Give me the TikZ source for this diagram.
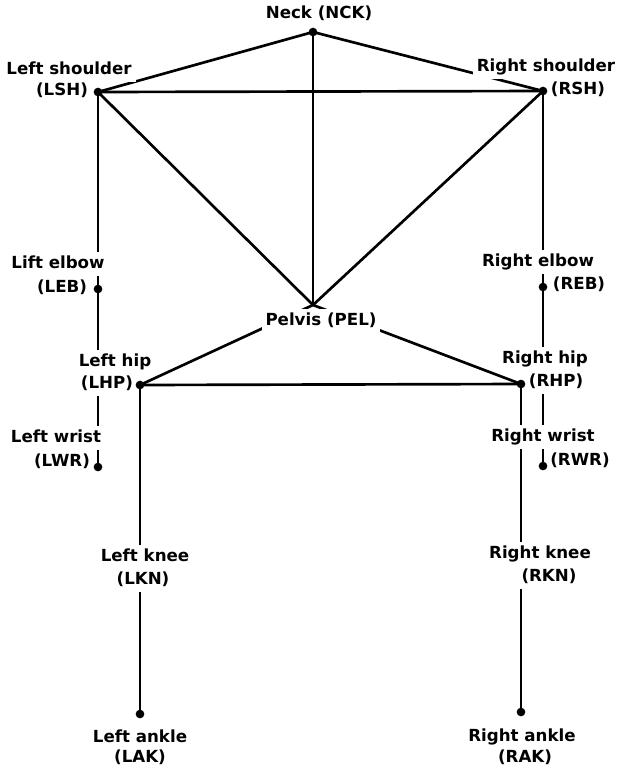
\documentclass[tikz,border=0pt]{standalone}
\usepackage{fontspec}
\setmainfont{DejaVu Sans}
\pgfdeclarelayer{bg}
\pgfsetlayers{bg,main}
\begin{document}
\begin{tikzpicture}[x=0.75pt,y=-0.75pt,
  lbl/.style={fill=white,inner xsep=3pt,inner ysep=4pt,font=\fontsize{12.5}{14}\selectfont\bfseries,text height=1.5ex,text depth=0.3ex},
  dot/.style={circle,fill=black,inner sep=0pt,minimum size=6.5pt},
  bone/.style={line width=2pt}]
\useasboundingbox (0,0) rectangle (619,769);
% labels
\node[lbl] (nckl) at (319,14) {Neck (NCK)};
\node[lbl] (lshl) at (69,70) {Left shoulder};
\node[lbl] (lshp) at (62,91) {(LSH)};
\node[lbl] (rshl) at (546,67) {Right shoulder};
\node[lbl] (rshp) at (578,90) {(RSH)};
\node[lbl] (lebl) at (58,264) {Lift elbow};
\node[lbl] (lebp) at (62,288) {(LEB)};
\node[lbl] (rebl) at (538,262) {Right elbow};
\node[lbl] (rebp) at (579,285) {(REB)};
\node[lbl] (pell) at (321,321) {Pelvis (PEL)};
\node[lbl] (lhpl) at (115,362) {Left hip};
\node[lbl] (lhpp) at (107,384) {(LHP)};
\node[lbl] (rhpl) at (545,359) {Right hip};
\node[lbl] (rhpp) at (556,382) {(RHP)};
\node[lbl] (lwrl) at (56,438) {Left wrist};
\node[lbl] (lwrp) at (62,462) {(LWR)};
\node[lbl] (rwrl) at (543,437) {Right wrist};
\node[lbl] (rwrp) at (580,461) {(RWR)};
\node[lbl] (lknl) at (145,557) {Left knee};
\node[lbl] (lknp) at (143,580) {(LKN)};
\node[lbl] (rknl) at (540,554) {Right knee};
\node[lbl] (rknp) at (549,577) {(RKN)};
\node[lbl] (lakl) at (140,738) {Left ankle};
\node[lbl] (lakp) at (140,758) {(LAK)};
\node[lbl] (rakl) at (522,737) {Right ankle};
\node[lbl] (rakp) at (525,758) {(RAK)};
% joints
\node[dot] (nck) at (313,32) {};
\node[dot] (lsh) at (98,92) {};
\node[dot] (rsh) at (543,91) {};
\coordinate (pel) at (313,305);
\node[dot] (leb) at (98,289) {};
\node[dot] (reb) at (543,287) {};
\node[dot] (lhp) at (140,385) {};
\node[dot] (rhp) at (521,384) {};
\node[dot] (lwr) at (98,467) {};
\node[dot] (rwr) at (543,466) {};
\node[dot] (lak) at (140,714) {};
\node[dot] (rak) at (521,712) {};
\begin{pgfonlayer}{bg}
\draw[bone] (nck.center) -- (lsh.center);
\draw[bone] (nck.center) -- (rsh.center);
\draw[bone] (lsh.center) -- (rsh.center);
\draw[bone] (nck.center) -- (pel);
\draw[bone] (lsh.center) -- (pel);
\draw[bone] (rsh.center) -- (pel);
\draw[bone] (pel) -- (lhp.center);
\draw[bone] (pel) -- (rhp.center);
\draw[bone] (lhp.center) -- (rhp.center);
\draw[bone] (lsh.center) -- (leb.center);
\draw[bone] (leb.center) -- (lwr.center);
\draw[bone] (rsh.center) -- (reb.center);
\draw[bone] (reb.center) -- (rwr.center);
\draw[bone] (lhp.center) -- (lak.center);
\draw[bone] (rhp.center) -- (rak.center);
\end{pgfonlayer}
\end{tikzpicture}
\end{document}
